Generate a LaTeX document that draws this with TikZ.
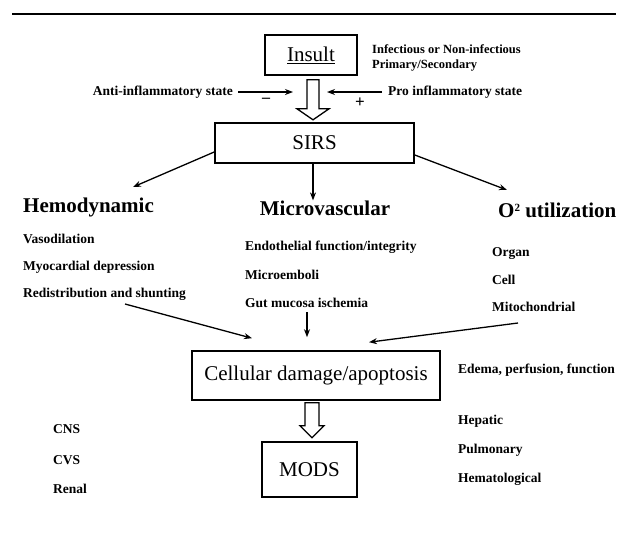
\documentclass[tikz,border=0pt]{standalone}
\usepackage{fontspec}
\setmainfont{Liberation Serif}
\usepackage{tikz}
\usetikzlibrary{arrows.meta, positioning}
\newcommand{\diagbig}{\fontsize{21}{24}\selectfont}
\newcommand{\diagsmall}{\fontsize{13.5}{15}\selectfont\bfseries}

\begin{document}
\begin{tikzpicture}[
        x=1pt, y=1pt,
        box/.style={draw, line width=1.6pt, inner sep=0pt, font=\diagbig},
        heading/.style={inner sep=0pt, font=\diagbig\bfseries},
        item/.style={inner sep=0pt, anchor=west, font=\diagsmall},
        note/.style={item, font=\fontsize{12.5}{14}\selectfont\bfseries},
        link/.style={-{Stealth[length=8pt, width=6pt]}, line width=1.3pt},
        fatarrow/.style={draw, line width=1.3pt, fill=white, line join=miter}
    ]
    \useasboundingbox (0,0) rectangle (626,-533);

    % --- Rule at the top ---
    \draw[line width=1.5pt] (12,-14) -- (616,-14);

    % --- Boxes ---
    \node[box, minimum width=92, minimum height=40] (insult) at (311,-55) {\underline{Insult}};
    \node[box, minimum width=199, minimum height=40] (sirs) at (314.5,-143) {SIRS};
    \node[box, minimum width=248, minimum height=49] (cell) at (316,-375.5) {Cellular damage/apoptosis};
    \node[box, minimum width=95, minimum height=55] (mods) at (309.5,-469.5) {MODS};

    % --- Insult side notes ---
    \node[note] (infect) at (372,-49) {Infectious or Non-infectious};
    \node[note] (primary) at (372,-66) {Primary/Secondary};
    \node[item, anchor=east] (anti) at (233,-92) {Anti-inflammatory state};
    \node[item] (pro) at (388,-92) {Pro inflammatory state};
    \node[item, anchor=center] (minus) at (266,-100) {\fontsize{16}{18}\selectfont –};
    \node[item, anchor=center] (plus) at (360,-103) {\fontsize{17}{18}\selectfont +};
    \coordinate (antitip) at (293,-92);
    \coordinate (protip) at (327,-92);
    \draw[link] ([xshift=5pt]anti.east) -- (antitip);
    \draw[link] ([xshift=-6pt]pro.west) -- (protip);

    % --- Hollow arrow Insult -> SIRS ---
    \draw[fatarrow] ([shift={(-4,-4)}]insult.south) -- ++(0,-29) -- ++(-10,0) -- ++(16,-11)
        -- ++(16,11) -- ++(-10,0) -- ++(0,29) -- cycle;

    % --- Three branches ---
    \node[heading, anchor=west] (hemo) at (23,-207) {Hemodynamic};
    \node[heading] (micro) at (325,-208) {Microvascular};
    \node[heading, anchor=west] (otwo) at (498,-210) {O\raisebox{0.6ex}{\fontsize{11}{12}\selectfont 2} utilization};

    \coordinate (hemotip) at (133,-187);
    \coordinate (otwotip) at (507,-190);
    \draw[link] ([yshift=-9pt]sirs.west) -- (hemotip);
    \draw[link] ([xshift=-1.5pt]sirs.south) -- ([xshift=-1.5pt]sirs.south |- micro.north);
    \draw[link] ([yshift=-12pt]sirs.east) -- (otwotip);

    % Hemodynamic list
    \node[item] (vaso) at (23,-239) {Vasodilation};
    \node[item] (myo) at (23,-267) {Myocardial depression};
    \node[item] (redist) at (23,-294) {Redistribution and shunting};

    % Microvascular list
    \node[item] (endo) at (245,-247) {Endothelial function/integrity};
    \node[item] (emboli) at (245,-275) {Microemboli};
    \node[item] (gut) at (245,-303) {Gut mucosa ischemia};

    % O2 utilization list
    \node[item] (organ) at (492,-254) {Organ};
    \node[item] (cellu) at (492,-280) {Cell};
    \node[item] (mito) at (492,-307) {Mitochondrial};

    % --- Into cellular damage ---
    \coordinate (hemotail) at (125,-304);
    \coordinate (mitotail) at (518,-323);
    \draw[link] (hemotail) -- ([shift={(-64,12)}]cell.north);
    \draw[link] ([shift={(-9,38)}]cell.north) -- ([shift={(-9,13)}]cell.north);
    \draw[link] (mitotail) -- ([shift={(53,8)}]cell.north);

    \node[item] (edema) at (458,-370) {Edema, perfusion, function};

    % --- Hollow arrow cellular damage -> MODS ---
    \draw[fatarrow] ([shift={(-11,-2)}]cell.south) -- ++(0,-23) -- ++(-5,0) -- ++(12,-12)
        -- ++(12,12) -- ++(-5,0) -- ++(0,23) -- cycle;

    % --- Organ systems ---
    \node[item] (cns) at (53,-429) {CNS};
    \node[item] (cvs) at (53,-460) {CVS};
    \node[item] (renal) at (53,-489) {Renal};
    \node[item] (hepatic) at (458,-421) {Hepatic};
    \node[item] (pulmo) at (458,-450) {Pulmonary};
    \node[item] (hemato) at (458,-479) {Hematological};

\end{tikzpicture}
\end{document}
